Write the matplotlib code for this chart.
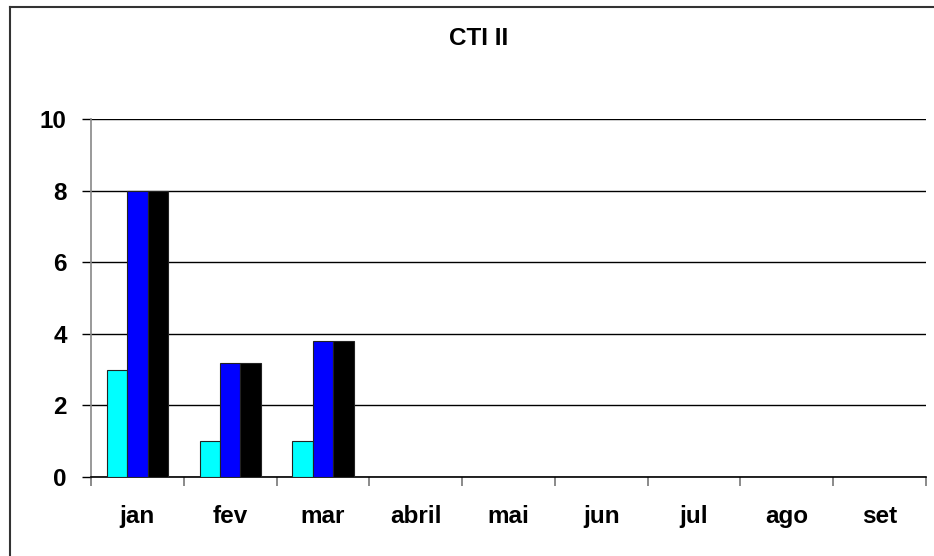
import matplotlib.pyplot as plt
import numpy as np
from matplotlib.lines import Line2D

plt.rcParams.update({
    "font.family": ["Liberation Sans", "DejaVu Sans"],
    "font.weight": "bold",
})

months = ["jan", "fev", "mar", "abril", "mai", "jun", "jul", "ago", "set"]
serie_a = [3, 1, 1, 0, 0, 0, 0, 0, 0]        # cyan
serie_b = [8, 3.2, 3.8, 0, 0, 0, 0, 0, 0]    # blue
serie_c = [8, 3.2, 3.8, 0, 0, 0, 0, 0, 0]    # black
colors = ["#00FFFF", "#0000FF", "#000000"]
y_ticks = [0, 2, 4, 6, 8, 10]

W, H = 934, 556
fig = plt.figure(figsize=(W / 100, H / 100), dpi=100)
ax = fig.add_axes([91 / W, (H - 477) / H, (926 - 91) / W, (477 - 119.3) / H])

x = np.arange(len(months))
bw = 0.22
for i, (vals, c) in enumerate(zip([serie_a, serie_b, serie_c], colors)):
    h = np.array(vals, dtype=float)
    keep = h > 0
    ax.bar(x[keep] + (i - 1) * bw, h[keep], width=bw, color=c,
           edgecolor="#222222", linewidth=0.8, zorder=3)

ax.set_xlim(-0.5, len(months) - 0.5)
ax.set_ylim(0, 10)
ax.set_yticks(y_ticks)
ax.set_yticklabels([str(v) for v in y_ticks], fontsize=17.5, fontweight="bold")
ax.yaxis.grid(True, color="black", linewidth=1.0, zorder=0)
ax.set_axisbelow(True)

# category boundaries as tick marks, labels centred in categories
ax.set_xticks(np.arange(len(months) + 1) - 0.5)
ax.set_xticklabels([])
ax.set_xticks(x, minor=True)
ax.set_xticklabels(months, minor=True, fontsize=17.5, fontweight="bold")
ax.tick_params(axis="x", which="major", length=6.5, color="#777777", width=1.2)
ax.tick_params(axis="x", which="minor", length=0, pad=20)
ax.tick_params(axis="y", length=6.5, color="black", width=1.0, pad=11)

for s in ["top", "right"]:
    ax.spines[s].set_visible(False)
ax.spines["left"].set_color("#888888")
ax.spines["left"].set_linewidth(1.2)
ax.spines["bottom"].set_color("black")
ax.spines["bottom"].set_linewidth(1.2)

fig.text(479 / W, 1 - 38.5 / H, "CTI II", ha="center", va="center",
         fontsize=17.5, fontweight="bold")

# chart area border (only top/left visible in crop)
fig.add_artist(Line2D([10 / W, 1.0], [1 - 7 / H, 1 - 7 / H], transform=fig.transFigure,
                      color="#333333", linewidth=1.5))
fig.add_artist(Line2D([10 / W, 10 / W], [0, 1 - 7 / H], transform=fig.transFigure,
                      color="#333333", linewidth=1.5))

fig.savefig("out.png", dpi=100)
